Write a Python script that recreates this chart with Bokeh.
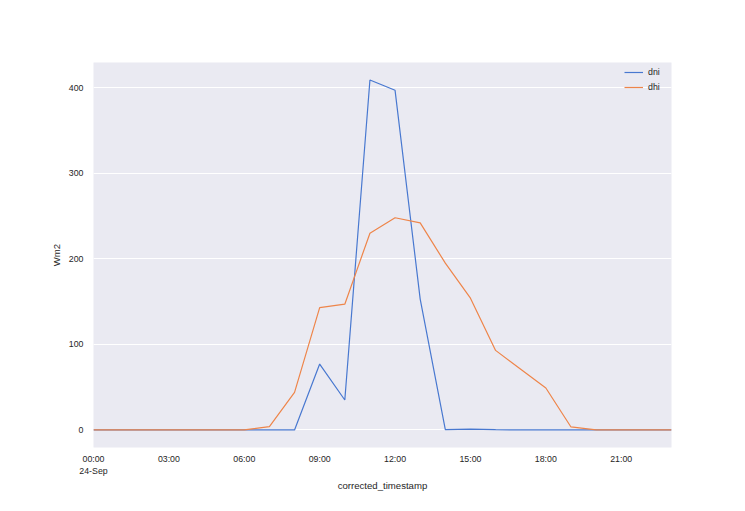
from bokeh.plotting import figure
from bokeh.models import Range1d, FixedTicker, Legend, LegendItem
from bokeh.embed import file_html
from bokeh.resources import INLINE

hours = list(range(24))
dni = [0, 0, 0, 0, 0, 0, 0, 0, 0, 77, 35, 409, 397, 153, 0.5, 1, 0.3, 0, 0, 0, 0, 0, 0, 0]
dhi = [0, 0, 0, 0, 0, 0, 0, 4, 44, 143, 147, 230, 248, 242, 195, 154, 93, 71, 49, 3.5, 0, 0, 0, 0]
x_ticks = [0, 3, 6, 9, 12, 15, 18, 21]
x_labels = ["00:00\n24-Sep", "03:00", "06:00", "09:00", "12:00", "15:00", "18:00", "21:00"]
y_ticks = [0, 100, 200, 300, 400]

FONT = "Liberation Sans"
TXT = "#262626"

p = figure(width=737, height=503, output_backend="svg", toolbar_location=None,
           x_range=Range1d(0, 23), y_range=Range1d(-20.5, 429.5),
           min_border_left=93, min_border_right=66, min_border_top=62, min_border_bottom=56)
p.background_fill_color = "#EAEAF2"
p.border_fill_color = "white"
p.outline_line_color = None

p.xgrid.grid_line_color = None
p.ygrid.grid_line_color = "white"
p.ygrid.grid_line_width = 1

for ax in (p.xaxis[0], p.yaxis[0]):
    ax.axis_line_color = None
    ax.major_tick_line_color = None
    ax.minor_tick_line_color = None
    ax.major_label_text_font = FONT
    ax.major_label_text_font_size = "8.8px"
    ax.major_label_text_color = TXT
    ax.axis_label_text_font = FONT
    ax.axis_label_text_font_size = "9.6px"
    ax.axis_label_text_font_style = "normal"
    ax.axis_label_text_color = TXT

p.xaxis.ticker = FixedTicker(ticks=x_ticks)
p.xaxis.major_label_overrides = {t: l for t, l in zip(x_ticks, x_labels)}
p.xaxis.axis_label = "corrected_timestamp"
p.xaxis.major_label_standoff = 0
p.xaxis.axis_label_standoff = 1

p.yaxis.ticker = FixedTicker(ticks=y_ticks)
p.yaxis.axis_label = "Wm2"
p.yaxis.major_label_standoff = 4
p.yaxis.axis_label_standoff = 4

r1 = p.line(hours, dni, line_color="#4878D0", line_width=1.2)
r2 = p.line(hours, dhi, line_color="#EE854A", line_width=1.2)

legend = Legend(items=[LegendItem(label="dni", renderers=[r1]),
                       LegendItem(label="dhi", renderers=[r2])],
                location="top_right")
legend.background_fill_alpha = 0
legend.border_line_color = None
legend.label_text_font = FONT
legend.label_text_font_size = "8.8px"
legend.label_text_color = TXT
legend.glyph_width = 19
legend.glyph_height = 14
legend.label_height = 14
legend.label_standoff = 5
legend.spacing = 1
legend.padding = 5
legend.margin = 3
p.add_layout(legend)

open("out.html", "w").write(file_html(p, INLINE))
